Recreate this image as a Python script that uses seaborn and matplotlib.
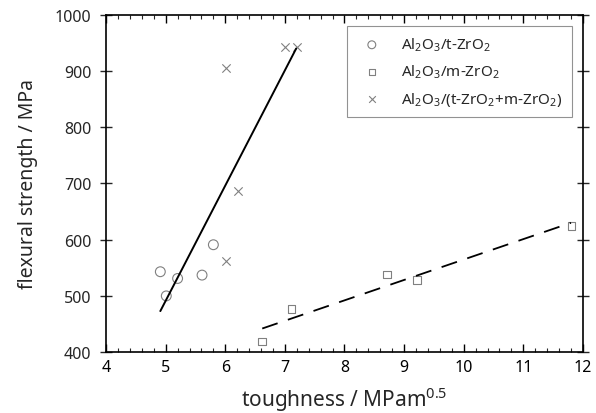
import matplotlib
matplotlib.use("Agg")
import matplotlib.pyplot as plt
import seaborn as sns
import pandas as pd
from matplotlib.ticker import MultipleLocator

sns.set_theme(style="ticks")
plt.rcParams['font.family'] = ['Noto Sans', 'DejaVu Sans']
plt.rcParams['mathtext.fontset'] = 'custom'
plt.rcParams['mathtext.rm'] = 'Noto Sans'

# data
t_x = [4.91, 5.01, 5.20, 5.61, 5.80]
t_y = [543, 500, 531, 537, 591]
m_x = [6.62, 7.11, 8.72, 9.21, 11.81]
m_y = [419, 477, 538, 528, 624]
tm_x = [6.01, 6.01, 6.21, 7.00, 7.20]
tm_y = [562, 905, 686, 942, 942]
fit1_x = [4.91, 7.19]
fit1_y = [473, 940]
fit2_x = [6.62, 11.80]
fit2_y = [442, 630]
labels = ["Al$_2$O$_3$/t-ZrO$_2$", "Al$_2$O$_3$/m-ZrO$_2$",
          "Al$_2$O$_3$/(t-ZrO$_2$+m-ZrO$_2$)"]

df = pd.concat([
    pd.DataFrame({"x": t_x, "y": t_y, "s": labels[0]}),
    pd.DataFrame({"x": m_x, "y": m_y, "s": labels[1]}),
    pd.DataFrame({"x": tm_x, "y": tm_y, "s": labels[2]}),
])

fig = plt.figure(figsize=(5.96, 4.14), dpi=100)
ax = fig.add_axes([0.178, 0.147, 0.800, 0.815])

sns.lineplot(x=fit1_x, y=fit1_y, ax=ax, color="black", lw=1.4, legend=False)
sns.lineplot(x=fit2_x, y=fit2_y, ax=ax, color="black", lw=1.3, legend=False,
             dashes=False)
ax.lines[-1].set_dashes([9, 6])

gray = "#808080"
sizes = {labels[0]: 50, labels[1]: 32, labels[2]: 36}
for lab, mk in zip(labels, ["o", "s", "x"]):
    sub = df[df.s == lab]
    if mk == "x":
        sns.scatterplot(data=sub, x="x", y="y", ax=ax, marker="x",
                        color=gray, s=sizes[lab], linewidth=0.8, label=lab)
    else:
        sns.scatterplot(data=sub, x="x", y="y", ax=ax, marker=mk,
                        facecolor="none", edgecolor=gray, s=sizes[lab],
                        linewidth=0.8, label=lab)

ax.set_xlim(4, 12)
ax.set_ylim(400, 1000)
ax.xaxis.set_major_locator(MultipleLocator(1))
ax.xaxis.set_minor_locator(MultipleLocator(0.2))
ax.yaxis.set_major_locator(MultipleLocator(100))
ax.tick_params(axis="x", which="major", direction="in", length=6, width=1,
               top=True, labelsize=11.5, colors="black", pad=5)
ax.tick_params(axis="x", which="minor", direction="in", length=3, width=0.8,
               top=True)
ax.tick_params(axis="y", which="major", direction="inout", length=9, width=1,
               right=True, labelsize=11.5, pad=6)
for s in ax.spines.values():
    s.set_linewidth(1.2)
    s.set_color("black")

ax.set_xlabel("toughness / MPam$^{0.5}$", fontsize=15, labelpad=7)
ax.set_ylabel("flexural strength / MPa", fontsize=14, labelpad=12)

leg = ax.legend(loc="upper right", bbox_to_anchor=(0.977, 0.967),
                fontsize=11, frameon=True, fancybox=False, borderpad=0.65,
                handletextpad=0.9, labelspacing=0.6, borderaxespad=0,
                markerscale=0.8)
leg.get_frame().set_edgecolor("#777777")
leg.get_frame().set_linewidth(0.8)

fig.savefig("out.png", dpi=100)
